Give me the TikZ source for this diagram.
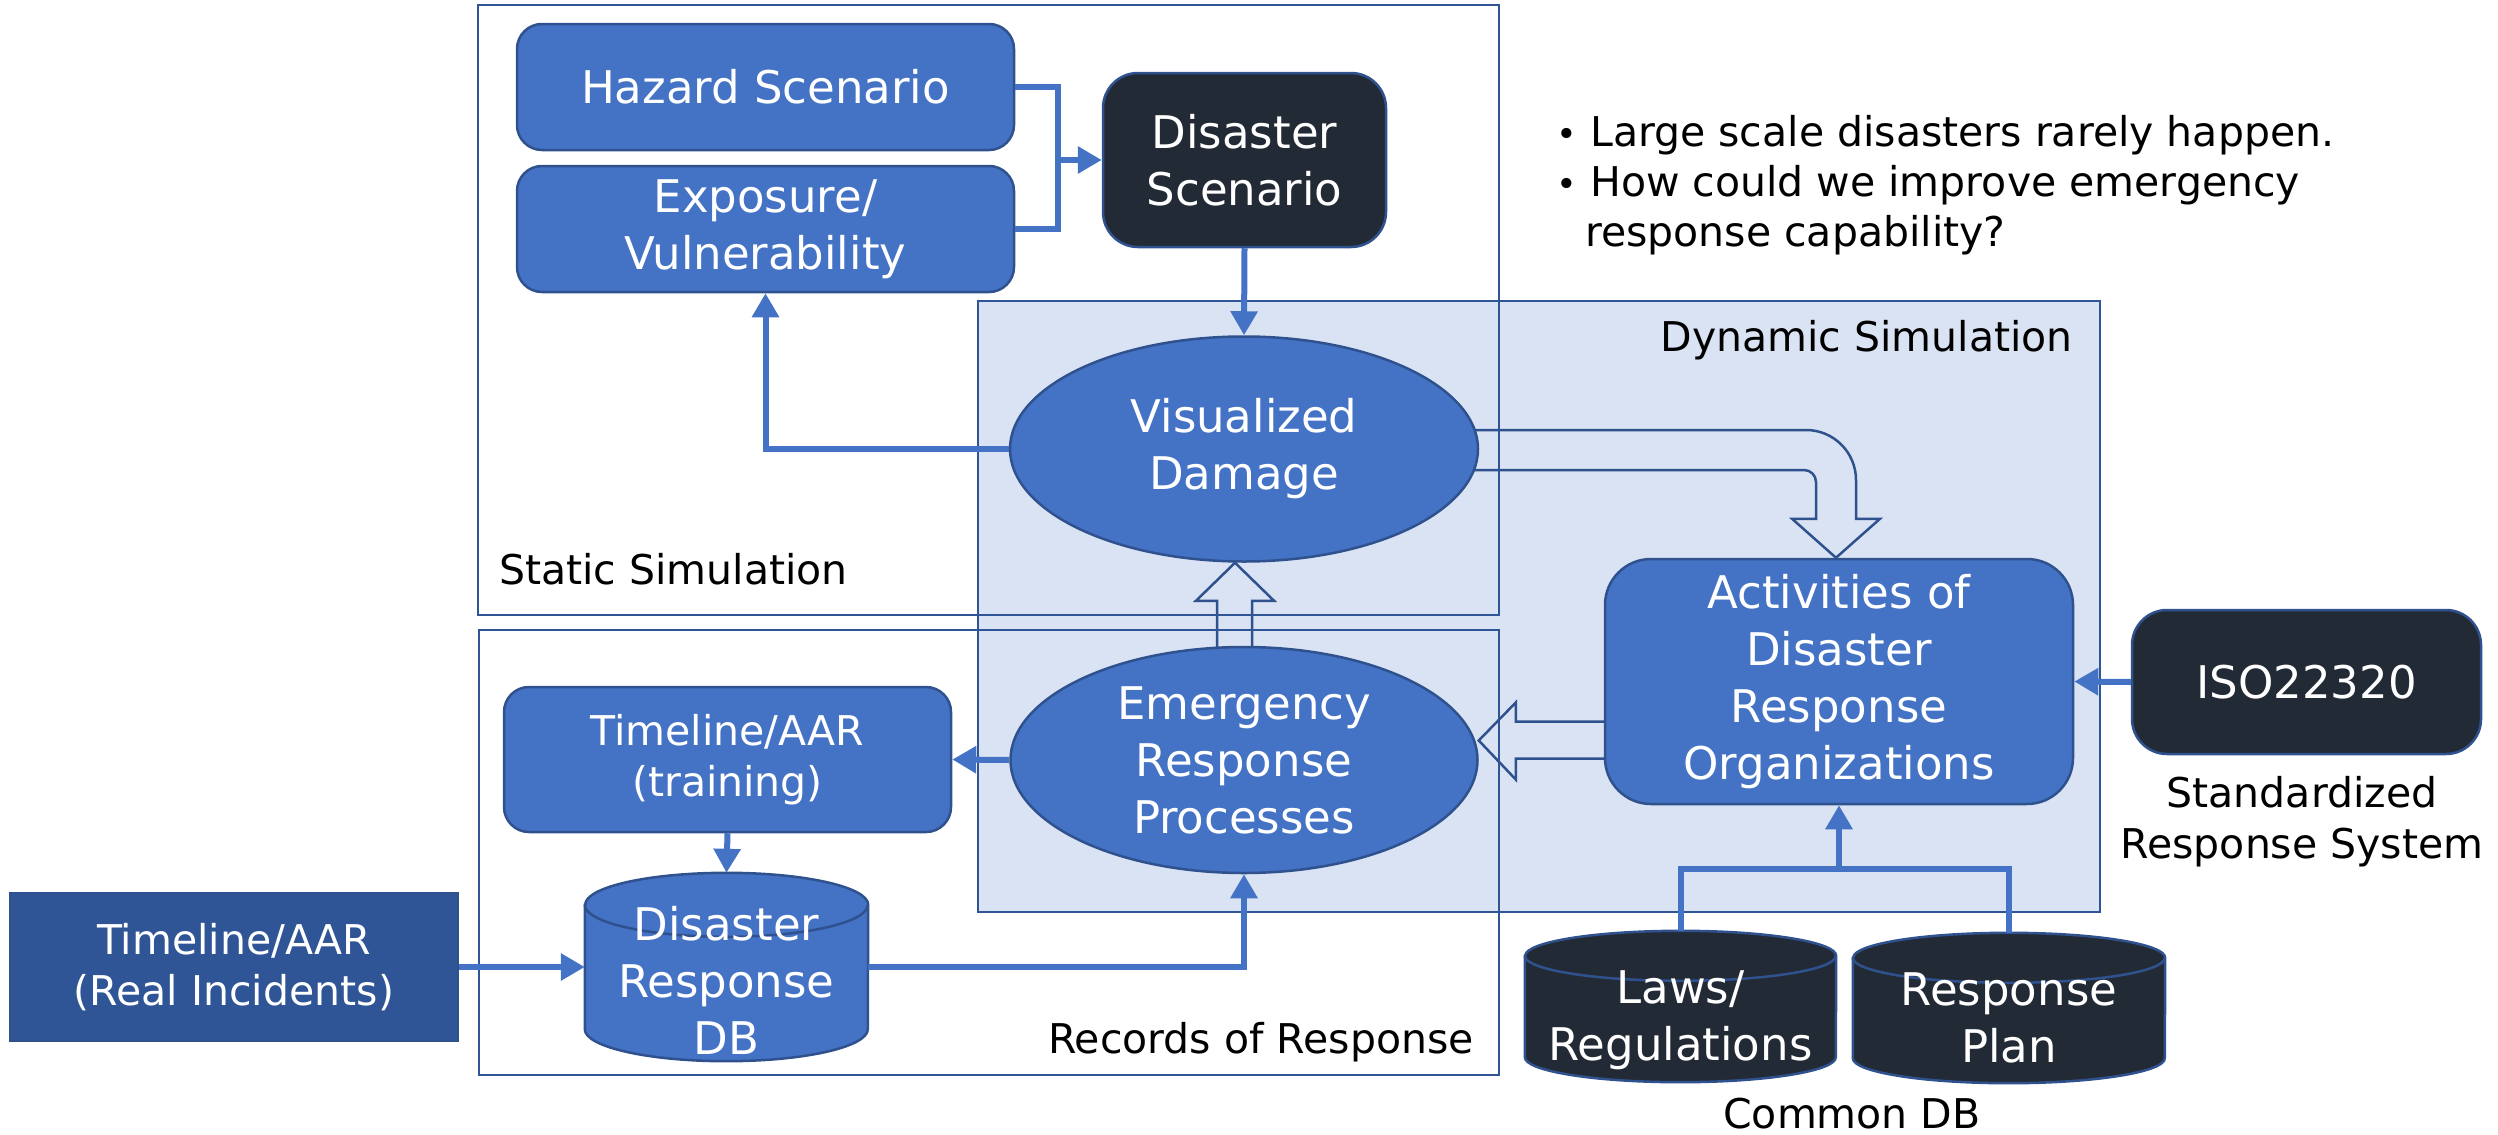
\documentclass[tikz,border=0pt]{standalone}
\usepackage{fontspec}
\setmainfont{DejaVu Sans}
\usetikzlibrary{arrows.meta,calc,shapes.geometric}
\definecolor{nodeblue}{HTML}{4472C4}
\definecolor{edgeblue}{HTML}{2F528F}
\definecolor{darknode}{HTML}{222A35}
\definecolor{realblue}{HTML}{2F5597}
\definecolor{lightbg}{HTML}{DAE3F3}
\definecolor{boxline}{HTML}{2F5597}
\pgfdeclarelayer{lone}\pgfdeclarelayer{ltwo}\pgfdeclarelayer{lthree}
\pgfsetlayers{lone,ltwo,lthree,main}
\newcommand\mycyl[7]{%
  \node[minimum width=#4pt, minimum height=#5pt, inner sep=0pt] (#1) at (#2,#3) {};
  \filldraw[fill=#7, draw=edgeblue, line width=2.5pt]
    ([yshift=-#6pt]#1.north west) -- ([yshift=#6pt]#1.south west)
    arc[start angle=180,end angle=360,x radius=#4/2,y radius=#6]
    -- ([yshift=-#6pt]#1.north east)
    arc[start angle=0,end angle=180,x radius=#4/2,y radius=#6] -- cycle;
  \draw[edgeblue, line width=2.5pt] ([yshift=-#6pt]#1.north west)
    arc[start angle=180,end angle=360,x radius=#4/2,y radius=#6];
}
\newcommand\mybul{\makebox[0pt]{\fontsize{35}{51}\selectfont •}\hspace{23pt}}
\begin{document}
\begin{tikzpicture}[x=1pt,y=1pt,
  big/.style={font=\fontsize{45}{57}\selectfont},
  lab/.style={font=\fontsize{41}{51}\selectfont, inner sep=0pt},
  bluebox/.style={draw=edgeblue, line width=2.5pt, fill=nodeblue, text=white,
     rounded corners=#1, inner sep=0pt, align=center, big},
  bluebox/.default=25pt,
  darkbox/.style={bluebox=#1, fill=darknode},
  darkbox/.default=35pt,
  blueell/.style={ellipse, draw=edgeblue, line width=2.5pt, fill=nodeblue, text=white,
     inner sep=0pt, align=center, big},
  container/.style={draw=boxline, line width=2.5pt, inner sep=0pt},
  blk/.style={draw=edgeblue, line width=2.5pt, fill=lightbg, line join=miter},
  conn/.style={draw=nodeblue, line width=6pt},
  arr/.style={conn, -{Triangle[length=24pt,width=26pt]}},
  wtext/.style={text=white, align=center, inner sep=0pt}
]
\useasboundingbox (0,0) rectangle (2498,-1135);

% containers
\begin{pgfonlayer}{lone}
\node[container, fill=lightbg, minimum width=1122pt, minimum height=611pt] (dyn) at (1539,-606.5) {};
\end{pgfonlayer}
\begin{pgfonlayer}{lthree}
\node[container, minimum width=1021pt, minimum height=610pt] (stat) at (988.5,-310) {};
\node[container, minimum width=1020pt, minimum height=445pt] (rec) at (989,-852.5) {};
\end{pgfonlayer}

% nodes
\node[bluebox, minimum width=497pt, minimum height=126pt] (haz) at (765.5,-87) {Hazard Scenario};
\node[bluebox, minimum width=497pt, minimum height=126pt] (expo) at (765.5,-229) {Exposure/\\Vulnerability};
\node[darkbox, minimum width=283pt, minimum height=174pt] (dis) at (1244.5,-160) {Disaster\\Scenario};
\node[blueell, minimum width=468pt, minimum height=225pt] (vd) at (1244,-449) {Visualized\\Damage};
\node[blueell, minimum width=467pt, minimum height=226pt] (erp) at (1244,-760) {Emergency\\Response\\Processes};
\node[bluebox=46pt, minimum width=468pt, minimum height=245pt] (act) at (1839,-681.5) {Activities of\\Disaster\\Response\\Organizations};
\node[darkbox, minimum width=349pt, minimum height=144pt] (iso) at (2306.5,-682) {ISO22320};
\node[bluebox, minimum width=447pt, minimum height=145pt, font=\fontsize{41}{51}\selectfont] (tr) at (727.5,-759.5) {Timeline/AAR\\(training)};
\node[draw=edgeblue, line width=2.5pt, fill=realblue, text=white, align=center, inner sep=0pt,
      minimum width=448pt, minimum height=148pt, font=\fontsize{41}{51}\selectfont] (real) at (234,-967) {Timeline/AAR\\(Real Incidents)};

\mycyl{db}{726.5}{-967}{283}{188}{32}{nodeblue}
\node[wtext, big] (dbt) at (726.5,-980) {Disaster\\Response\\DB};
\mycyl{laws}{1680.5}{-1006.5}{311}{151}{25}{darknode}
\node[wtext, big] (lawst) at (1680.5,-1020) {Laws/\\Regulations};
\mycyl{plan}{2009}{-1008}{312}{150}{25}{darknode}
\node[wtext, big] (plant) at (2009,-1018) {Response\\Plan};

% labels
\node[lab, anchor=base west] (b1) at (1567,-146) {\mybul Large scale disasters rarely happen.};
\node[lab, anchor=base west] (b2) at (1567,-196) {\mybul How could we improve emergency};
\node[lab, anchor=base west] (b3) at (1585,-246) {response capability?};
\node[lab, anchor=base west] (lstat) at (499,-584) {Static Simulation};
\node[lab, anchor=base east] (lrec) at (1474,-1053) {Records of Response};
\node[lab, anchor=base east] (ldyn) at (2073,-351) {Dynamic Simulation};
\node[lab, align=center] (lstd) at (2302,-822) {Standardized\\Response System};
\node[lab] (lcom) at (1852,-1114) {Common DB};

% block arrows
\begin{pgfonlayer}{ltwo}
\draw[blk] let \p1=(erp.north), \p2=(vd.south) in
  (\x1-27pt,\y1-10pt) -- (\x1-27pt,\y2-38pt) -- (\x1-48pt,\y2-38pt) -- (\x1-9pt,\y2)
  -- (\x1+30pt,\y2-38pt) -- (\x1+8pt,\y2-38pt) -- (\x1+8pt,\y1-10pt) -- cycle;
\draw[blk] let \p1=(act.west), \p2=(erp.east) in
  (\x1+8pt,\y1-40pt) -- (\x2+37pt,\y1-40pt) -- (\x2+37pt,\y1-21pt) -- (\x2,\y1-59pt)
  -- (\x2+37pt,\y1-98pt) -- (\x2+37pt,\y1-77pt) -- (\x1+8pt,\y1-77pt) -- cycle;
\draw[blk] let \p1=(vd.east), \p2=(act.north) in
  (\x1-10pt,\y1+19pt) -- (\x2-33pt,\y1+19pt)
  arc[start angle=90,end angle=0,radius=50pt]
  -- (\x2+17pt,\y2+39pt) -- (\x2+41pt,\y2+39pt) -- (\x2-3pt,\y2)
  -- (\x2-47pt,\y2+39pt) -- (\x2-23pt,\y2+39pt) -- (\x2-23pt,\y1-33pt)
  arc[start angle=0,end angle=90,radius=12pt]
  -- (\x1-10pt,\y1-21pt) -- cycle;
\end{pgfonlayer}

% connectors
\coordinate (hj) at (1058,-160);
\draw[conn] (haz.east) -| (hj);
\draw[conn] (expo.east) -| (hj);
\draw[arr] (hj) -- (dis.west);
\draw[arr] (dis.south) -- (vd.north);
\draw[arr] (vd.west) -| (expo.south);
\draw[arr] (erp.west) -- (tr.east);
\draw[arr] (tr.south) -- (db.north);
\draw[arr] (real.east) -- (db.west);
\draw[arr] (db.east) -| (erp.south);
\draw[arr] (iso.west) -- (act.east);
\coordinate (lj) at (1839,-869);
\draw[conn] (laws.north) |- (lj);
\draw[conn] (plan.north) |- (lj);
\draw[arr] (lj) -- (act.south);
\end{tikzpicture}
\end{document}
